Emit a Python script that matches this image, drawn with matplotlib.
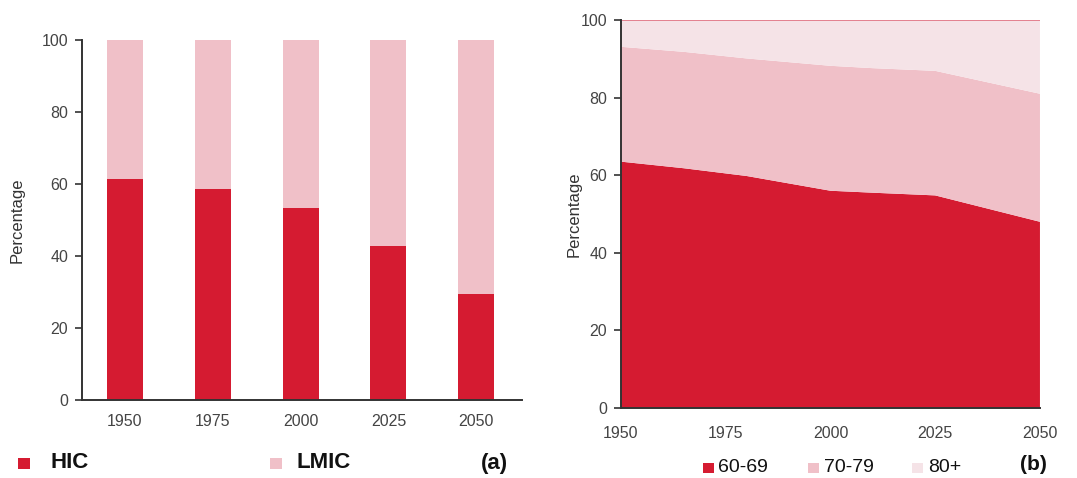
import matplotlib.pyplot as plt
from matplotlib.patches import Rectangle

plt.rcParams['font.family'] = ['Liberation Sans', 'DejaVu Sans']

# panel (a): share of older people, HIC vs LMIC
bar_years = ['1950', '1975', '2000', '2025', '2050']
hic = [61.4, 58.5, 53.2, 42.8, 29.4]
lmic = [38.6, 41.5, 46.8, 57.2, 70.6]

# panel (b): age structure of the 60+ population
area_years = [1950, 1965, 1980, 2000, 2010, 2025, 2050]
age_60_69 = [63.5, 61.8, 59.8, 56.0, 55.5, 54.8, 48.0]
age_70_79 = [29.6, 30.0, 30.3, 32.2, 32.1, 32.1, 33.0]
age_80p = [6.9, 8.2, 9.9, 11.8, 12.4, 13.1, 19.0]

RED = '#d51b31'
PINK = '#f0c0c8'
LIGHT = '#f5e3e7'
TXT = '#444444'

fig = plt.figure(figsize=(10.77, 4.78), dpi=100)

# ---- (a)
ax1 = fig.add_axes([0.0761, 0.1632, 0.4085, 0.7531])
xs = range(len(bar_years))
ax1.bar(xs, hic, width=0.41, color=RED)
ax1.bar(xs, lmic, width=0.41, bottom=hic, color=PINK)
ax1.set_xlim(-0.49, 4.52)
ax1.set_ylim(0, 100)
ax1.set_xticks(list(xs))
ax1.set_xticklabels(bar_years)
ax1.set_yticks(range(0, 101, 20))
ax1.set_ylabel('Percentage', fontsize=12, color='#333333', labelpad=12)

# ---- (b)
ax2 = fig.add_axes([0.5766, 0.1464, 0.389, 0.8117])
ax2.stackplot(area_years, age_60_69, age_70_79, age_80p,
              colors=[RED, PINK, LIGHT], linewidth=0)
ax2.axhline(100, color='#e07080', lw=1.2)
ax2.set_xlim(1950, 2050)
ax2.set_ylim(0, 100)
ax2.set_xticks(range(1950, 2051, 25))
ax2.set_yticks(range(0, 101, 20))
ax2.set_ylabel('Percentage', fontsize=12, color='#333333', labelpad=-1)

for ax, xpad in ((ax1, 10), (ax2, 13)):
    for s in ('top', 'right'):
        ax.spines[s].set_visible(False)
    for s in ('left', 'bottom'):
        ax.spines[s].set_color('#333333')
        ax.spines[s].set_linewidth(1.4)
    ax.tick_params(axis='x', length=0, pad=xpad, labelsize=11.5, labelcolor=TXT)
    ax.tick_params(axis='y', length=5, width=1.2, color='#333333',
                   pad=5, labelsize=11.5, labelcolor=TXT)


def key(x, y, color, label, size, weight='normal', w=12, h=11, gap=8):
    fig.patches.append(Rectangle((x / 1077, (478 - y - h / 2) / 478), w / 1077, h / 478,
                                 transform=fig.transFigure, color=color, lw=0))
    fig.text((x + w + gap) / 1077, (478 - y) / 478, label, fontsize=size,
             fontweight=weight, va='center', ha='left', color='#111111')


# legend (a)
key(18, 463, RED, 'HIC', 16, 'bold', gap=20)
key(270, 463, PINK, 'LMIC', 16, 'bold', gap=15)
fig.text(494 / 1077, (478 - 463) / 478, '(a)', fontsize=16, fontweight='bold',
         ha='center', va='center', color='#111111')

# legend (b)
key(703, 468, RED, '60-69', 14, w=11, h=10, gap=4)
key(808, 468, PINK, '70-79', 14, w=11, h=10, gap=5)
key(912, 468, LIGHT, '80+', 14, w=11, h=10, gap=5)
fig.text(1033 / 1077, (478 - 465) / 478, '(b)', fontsize=15, fontweight='bold',
         ha='center', va='center', color='#111111')

fig.savefig('out.png', dpi=100)
